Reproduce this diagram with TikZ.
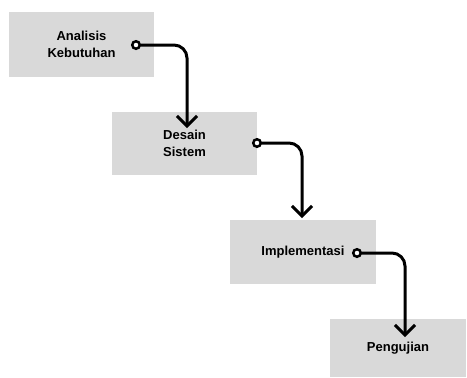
\documentclass[tikz,border=0pt]{standalone}
\usepackage{fontspec}
\setmainfont{Liberation Sans}
\usetikzlibrary{arrows.meta}
\definecolor{boxGray}{HTML}{D9D9D9}

\begin{document}
\begin{tikzpicture}
[x=1pt,y=-1pt,%
  stepBox/.style={fill=boxGray,inner sep=0pt,align=center,
    font=\fontsize{13}{17}\selectfont\bfseries},%
  flowLine/.style={line width=3pt,rounded corners=13pt,
    {Circle[open,length=10pt,width=10pt,fill=white,line width=2.5pt]}-{Straight Barb[length=10pt,width=20pt,line width=3pt]}}]
\useasboundingbox (0,0) rectangle (467,378);
%% the four stages
\node[stepBox,minimum width=145pt,minimum height=65pt] (analisis) at (81.5,44.5) {Analisis\\Kebutuhan};
\node[stepBox,minimum width=145pt,minimum height=63pt] (desain) at (184.5,143.5) {Desain\\Sistem};
\node[stepBox,minimum width=146pt,minimum height=64pt] (implementasi) at (303,252) {Implementasi};
\node[stepBox,minimum width=136pt,minimum height=58pt] (pengujian) at (398,348) {Pengujian};
%% start and end points of the arrows
\coordinate (s1) at (131,45);
\coordinate (e1) at (187,128);
\coordinate (s2) at (252,143);
\coordinate (e2) at (302,218);
\coordinate (s3) at (352,253);
\coordinate (e3) at (405,337);
\draw[flowLine] (s1) -| (e1);
\draw[flowLine] (s2) -| (e2);
\draw[flowLine] (s3) -| (e3);
\end{tikzpicture}
\end{document}
